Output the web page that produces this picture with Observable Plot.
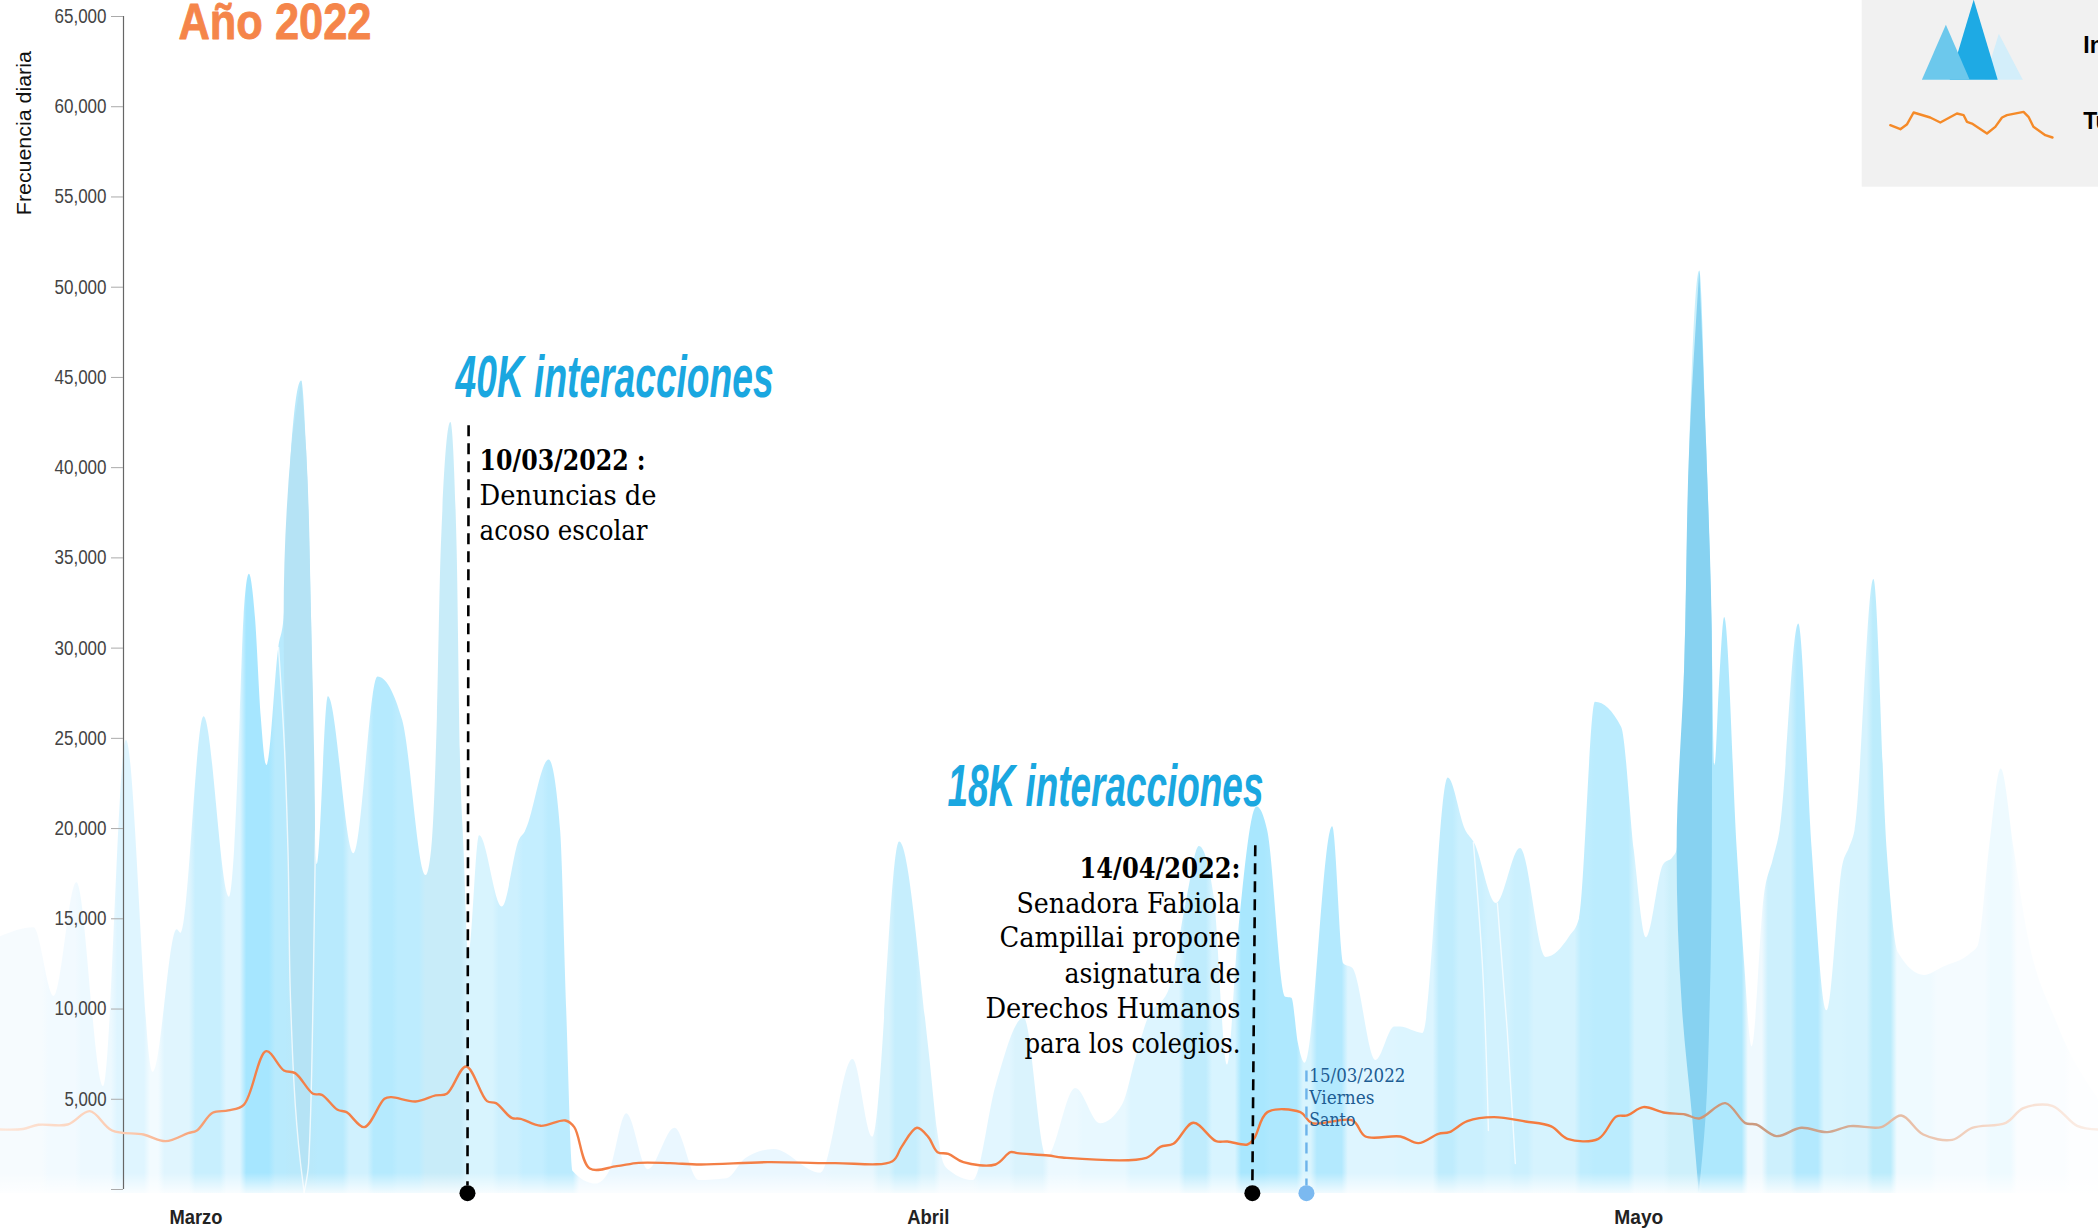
<!DOCTYPE html>
<html lang="es">
<head>
<meta charset="utf-8">
<script src="https://cdn.jsdelivr.net/npm/d3@7"></script>
<script src="https://cdn.jsdelivr.net/npm/@observablehq/plot@0.6"></script>
<style>
html,body{margin:0;padding:0;background:#fff;overflow:hidden}
svg{display:block;overflow:hidden}
</style>
</head>
<body>
<div id="chart"></div>
<script>
// x values are days since 1 March 2022; negative = February
const interDias = [-11.81,-10.32,-9.42,-8.41,-7.22,-6.20,-5.01,-3.94,-3.76,-2.74,-1.61,-1.38,-1.13,-0.96,-0.72,-0.45,-0.19,0.06,0.60,0.83,1.16,1.61,1.83,2.05,2.23,2.30,2.80,3.94,5.01,6.11,7.16,7.40,7.66,7.83,8.26,8.54,8.68,8.85,9.06,9.54,10.55,11.33,11.57,12.64,13.15,13.42,13.71,14.73,15.33,16.10,17.05,18.25,19.32,20.57,21.41,22.66,24.75,26.18,27.07,28.26,29.56,29.95,30.23,30.53,31.54,32.56,33.81,34.82,36.11,37.21,38.20,38.80,39.30,40.31,41.08,41.62,42.28,42.87,43.35,44.19,44.66,45.47,45.74,46.03,46.33,47.56,48.06,48.46,49.49,50.33,50.57,51.58,52.71,53.49,53.88,54.86,55.93,57.07,58.12,58.56,59.27,60.44,61.00,61.54,62.31,62.73,62.91,63.24,63.48,63.92,64.22,64.46,64.60,64.80,65.03,65.59,65.92,66.25,66.79,67.20,67.50,68.33,68.93,69.59,70.30,70.60,70.84,71.68,72.27,72.78,73.94,74.75,76.03,76.33,76.84,77.35,77.94,78.45,79.85,81.69];
const interValores = [14000,14500,10700,17000,5700,24900,6500,14400,14200,26200,16200,18791,26160,31700,34100,31700,26160,23500,30100,31700,40960,44800,40960,31700,19500,18000,27300,18600,28400,26000,17400,18791,26160,35420,42500,35420,24334,18791,13000,19600,15650,19400,19800,23800,19900,10000,1000,300,1000,4200,1100,3400,500,600,1720,2220,900,7200,2900,19250,7800,3270,1440,1000,500,5750,9500,1800,5600,3650,4700,7300,9370,11200,16200,19000,16200,6900,14000,21200,19900,10650,10600,8100,7000,20100,12500,12250,7150,9000,9000,8650,22800,19900,19200,15850,18900,12850,14000,15000,27000,25600,18800,13950,18000,18400,18800,28700,41400,50900,41400,31700,23500,28000,31700,18800,12500,7900,16200,18300,19900,31340,18800,9900,18000,18950,19900,33800,18800,13100,11860,12300,13100,13500,19000,23300,18800,14700,9200,5000];

const tuitDias = [-11.81,-10.81,-10.12,-8.82,-7.83,-6.84,-5.44,-4.45,-3.45,-3.06,-2.36,-1.66,-0.97,0.03,0.82,1.32,2.12,2.51,3.21,3.61,4.40,5.30,5.60,6.69,7.58,8.08,8.94,9.87,10.27,10.97,11.37,12.26,13.36,13.76,14.45,15.65,16.63,18.03,19.38,22.37,25.35,27.94,28.34,29.03,29.54,29.95,30.43,31.10,32.53,33.20,33.51,34.89,35.51,39.26,39.88,40.46,41.35,42.36,42.87,43.76,44.05,44.65,46.12,46.64,48.44,49.02,50.58,51.38,52.27,52.76,53.56,54.74,56.15,57.30,58.02,59.40,60.20,60.69,61.40,62.38,63.27,63.90,65.06,65.95,66.44,67.33,68.44,69.60,70.63,72.01,72.90,73.88,75.17,76.06,77.56,78.34,79.63,80.74,81.68];
const tuitValores = [3326,3350,3585,3602,4342,3270,3049,2679,3123,3270,4250,4380,4693,7667,6596,6448,5303,5248,4416,4287,3455,5025,5118,4878,5212,5303,6819,4897,4786,3971,3915,3529,3825,3455,1164,1293,1478,1460,1386,1515,1460,1570,2346,3418,2901,2069,1976,1515,1386,2069,2013,1885,1774,1756,2365,2531,3696,2679,2660,2494,2808,4287,4287,3677,3825,2938,2938,2568,3086,3179,3788,4010,3770,3494,2808,2808,4047,4103,4565,4250,4159,3936,4786,3677,3602,2957,3418,3179,3512,3456,4103,3049,2753,3418,3696,4510,4639,3530,3326];

// colour of the overlapped mountains, left to right: [end day, colour]
const bandas = [[-9.80,"#f6fbfe"],[-8.33,"#f2faff"],[-6.73,"#edf9ff"],[-5.26,"#dff5ff"],[-4.63,"#f2fbff"],[-3.25,"#e0f5fe"],[-1.87,"#c8effe"],[-0.98,"#def5ff"],[0.31,"#a6e6ff"],[1.02,"#b8eafd"],[2.23,"#b9e9fb"],[3.61,"#b8eafd"],[4.70,"#d0f1fe"],[5.79,"#b5eafe"],[7.00,"#bdecfe"],[8.87,"#c8ecf9"],[10.27,"#d8f4fe"],[11.36,"#cdf0fe"],[12.48,"#c4eeff"],[13.86,"#bbebfe"],[25.13,"#eaf7ff"],[27.20,"#e8f7fe"],[27.94,"#d8f3fd"],[29.14,"#c6eefd"],[29.95,"#d5f2fd"],[31.70,"#e8f7fe"],[33.30,"#e2f6ff"],[34.80,"#daf3fd"],[36.30,"#ecf9ff"],[38.45,"#e8f8ff"],[40.86,"#ddf5ff"],[42.07,"#bfecfd"],[43.36,"#d8f4ff"],[44.65,"#a9e7fe"],[46.12,"#aee8fe"],[46.74,"#d8f4fe"],[48.12,"#b3e9fe"],[50.40,"#def5ff"],[52.18,"#dcf5ff"],[53.07,"#bfecfd"],[54.36,"#cbf0fe"],[55.55,"#d2f2fe"],[56.41,"#cbf0fe"],[58.50,"#d6f3fe"],[59.10,"#bfedfe"],[60.90,"#bbecfe"],[62.47,"#d6f3fe"],[63.90,"#cdf0fb"],[65.95,"#aee8fd"],[66.84,"#eff9fe"],[68.13,"#cdf0fd"],[69.34,"#b3e9fe"],[70.40,"#d8f4fe"],[71.52,"#d6f3fe"],[72.59,"#bcecfc"],[74.37,"#effaff"],[76.77,"#f4fbff"],[77.94,"#eefaff"],[80.34,"#fafdff"],[81.69,"#fdfeff"]];

// two darker overlaps: value, left day, right day
const lenteMayo = [[50900,63.92,63.92],[41400,63.48,64.22],[28700,63.24,64.49],[18800,62.91,64.48],[10000,63.15,64.38],[4000,63.60,64.20],[-200,63.90,63.90]];
const lenteMarzo = [[44800,1.61,1.61],[40960,1.16,1.83],[31700,0.83,2.05],[18800,1.00,2.23],[10643,1.11,2.12],[1441,1.56,1.92],[-166,1.72,1.72]];

// thin white seams between mountains: [day, value]
const hilos = [
  [[0.58,30043],[0.85,24334],[1.00,18791],[1.11,10643],[1.56,1441],[1.72,-166]],
  [[2.23,19900],[2.12,10643],[1.92,1441],[1.72,-166]],
  [[53.83,19234],[54.23,12527],[54.50,3270]],
  [[54.90,15853],[55.34,8813],[55.70,1441]]
];

const ticksY = [0,5000,10000,15000,20000,25000,30000,35000,40000,45000,50000,55000,60000,65000];
const meses = [["Marzo",-4.28],["Abril",28.60],["Mayo",60.11]];

const hitos = [
  {dia1:9.05, valor1:42350, dia2:9.00, valor2:220, color:"#000", punto:"#000"},
  {dia1:44.11, valor1:19070, dia2:43.98, valor2:220, color:"#000", punto:"#000"},
  {dia1:46.39, valor1:6596, dia2:46.39, valor2:220, color:"#6cb3ea", punto:"#7bb9f0"}
];

const nota1Fecha = [["10/03/2022 :",39854]];
const nota1Texto = [["Denuncias de",37914],["acoso escolar",35974]];
const nota2Fecha = [["14/04/2022:",17239]];
const nota2Texto = [["Senadora Fabiola",15299],["Campillai propone",13414],["asignatura de",11419],["Derechos Humanos",9479],["para los colegios.",7538]];
const nota3 = [["15/03/2022",5931],["Viernes",4712],["Santo",3492]];

const leyendaTriClaro = [[76.64,61472],[77.27,64023],[78.34,61472]];
const leyendaTriFuerte = [[75.08,61472],[76.15,65906],[77.22,61472]];
const leyendaTriMedio = [[73.84,61472],[74.91,64520],[75.97,61472]];
const leyendaDias = [72.41,72.86,73.16,73.45,74.19,74.64,75.38,75.68,75.83,76.05,76.72,77.09,77.39,77.61,78.35,78.57,78.79,79.32,79.64];
const leyendaValores = [58978,58756,59033,59680,59403,59126,59625,59532,59163,59070,58517,58886,59403,59532,59717,59440,58886,58424,58295];

const anchos = {"Año 2022":193,"40K interacciones":318,"18K interacciones":316,"10/03/2022 :":166,"Denuncias de":177,"acoso escolar":168,"14/04/2022:":161,"Senadora Fabiola":224,"Campillai propone":241,"asignatura de":176,"Derechos Humanos":255,"para los colegios.":216,"15/03/2022":96,"Viernes":65,"Santo":46,"Marzo":53,"Abril":42,"Mayo":49,"Frecuencia diaria":164,
  "5,000":42,"10,000":52,"15,000":52,"20,000":52,"25,000":52,"30,000":52,"35,000":52,"40,000":52,"45,000":52,"50,000":52,"55,000":52,"60,000":52,"65,000":52};

const base = -220;
const inter = interDias.map((d,i)=>({d,v:interValores[i]}));
const tuit = tuitDias.map((d,i)=>({d,v:tuitValores[i]}));
const leyendaLinea = leyendaDias.map((d,i)=>({d,v:leyendaValores[i]}));
const narrow = "'Liberation Sans Narrow','Liberation Sans',sans-serif";
const slab = "'DejaVu Serif Condensed','DejaVu Serif',serif";

const plot = Plot.plot({
  width:2098, height:1230,
  marginLeft:123, marginRight:0, marginTop:16, marginBottom:41,
  x:{domain:[-6.33,81.69], axis:null},
  y:{domain:[0,65000]},
  marks:[
    Plot.areaY(inter,{x:"d",y1:()=>base,y2:"v",fill:"url(#bandasInter)",curve:"monotone-x"}),
    Plot.areaX(lenteMayo,{y:d=>d[0],x1:d=>d[1],x2:d=>d[2],fill:"#87d2f1",curve:"monotone-y"}),
    Plot.areaX(lenteMarzo,{y:d=>d[0],x1:d=>d[1],x2:d=>d[2],fill:"#b5e3f5",curve:"monotone-y"}),
    ...hilos.map(h=>Plot.line(h,{x:d=>d[0],y:d=>d[1],stroke:"#fff",strokeWidth:1.4,strokeOpacity:.75,curve:"monotone-y"})),
    Plot.rect([0],{x1:()=>-11.81,x2:()=>81.69,y1:()=>-2000,y2:()=>900,fill:"url(#fundido)"}),
    Plot.ruleX([-6.33],{y1:0,y2:65000,stroke:"#666",strokeWidth:1.2}),
    Plot.axisY({anchor:"left",ticks:ticksY,tickSize:12,tickPadding:5,label:null,fontSize:20,
      stroke:"#aaa",color:"#444",tickFormat:d=>d===0?"":d3.format(",")(d),
      fontFamily:narrow}),
    Plot.line(tuit,{x:"d",y:"v",stroke:"url(#bandaTuit)",strokeWidth:2.4,curve:"catmull-rom"}),
    ...hitos.map(h=>Plot.link([h],{x1:"dia1",y1:"valor1",x2:"dia2",y2:"valor2",stroke:"color",strokeWidth:h.color==="#000"?2.6:2.4,strokeDasharray:"11,7"})),
    Plot.dot(hitos.map(h=>({d:h.dia2,c:h.punto})),{x:"d",y:()=>-205,r:8,fill:"c",stroke:"none"}),

    Plot.text(["Año 2022"],{x:()=>-3.88,y:()=>63745,text:d=>d,textAnchor:"start",lineAnchor:"bottom",fontFamily:narrow,fontWeight:700,fontSize:50,fill:"#f5854a",stroke:"#f5854a",strokeWidth:.8}),
    Plot.text(["40K interacciones"],{x:()=>8.47,y:()=>43900,text:d=>d,textAnchor:"start",lineAnchor:"bottom",fontFamily:narrow,fontStyle:"italic",fontWeight:700,fontSize:60,fill:"#1aa7e0"}),
    Plot.text(["18K interacciones"],{x:()=>30.39,y:()=>21230,text:d=>d,textAnchor:"start",lineAnchor:"bottom",fontFamily:narrow,fontStyle:"italic",fontWeight:700,fontSize:60,fill:"#1aa7e0"}),
    Plot.text(["Frecuencia diaria"],{x:()=>-10.74,y:()=>58535,text:d=>d,rotate:-90,fontFamily:"'Liberation Sans',sans-serif",fontSize:21,fill:"#111"}),
    Plot.text(nota1Fecha,{x:()=>9.54,y:d=>d[1],text:d=>d[0],textAnchor:"start",lineAnchor:"bottom",fontFamily:slab,fontSize:27,fontWeight:700,fill:"#000"}),
    Plot.text(nota1Texto,{x:()=>9.54,y:d=>d[1],text:d=>d[0],textAnchor:"start",lineAnchor:"bottom",fontFamily:slab,fontSize:27,fill:"#000"}),
    Plot.text(nota2Fecha,{x:()=>43.45,y:d=>d[1],text:d=>d[0],textAnchor:"end",lineAnchor:"bottom",fontFamily:slab,fontSize:27,fontWeight:700,fill:"#000"}),
    Plot.text(nota2Texto,{x:()=>43.45,y:d=>d[1],text:d=>d[0],textAnchor:"end",lineAnchor:"bottom",fontFamily:slab,fontSize:27,fill:"#000"}),
    Plot.text(nota3,{x:()=>46.52,y:d=>d[1],text:d=>d[0],textAnchor:"start",lineAnchor:"bottom",fontFamily:slab,fontSize:18,fill:"#1d5c93"}),
    Plot.text(meses,{x:d=>d[1],y:()=>-1885,text:d=>d[0],textAnchor:"start",lineAnchor:"bottom",fontFamily:narrow,fontWeight:700,fontSize:21,fill:"#222"}),

    Plot.rect([0],{x1:()=>71.16,x2:()=>81.69,y1:()=>55540,y2:()=>65906,fill:"#f1f1f1"}),
    Plot.areaY(leyendaTriClaro,{x:d=>d[0],y1:()=>61472,y2:d=>d[1],fill:"#d3eefa"}),
    Plot.areaY(leyendaTriFuerte,{x:d=>d[0],y1:()=>61472,y2:d=>d[1],fill:"#1eaae4"}),
    Plot.areaY(leyendaTriMedio,{x:d=>d[0],y1:()=>61472,y2:d=>d[1],fill:"#6cc8ec"}),
    Plot.line(leyendaLinea,{x:"d",y:"v",stroke:"#f58a28",strokeWidth:2.4}),
    Plot.text([["Interacciones",62968],["Tuits",58756]],{x:()=>81.01,y:d=>d[1],text:d=>d[0],textAnchor:"start",lineAnchor:"bottom",fontFamily:"'Liberation Sans',sans-serif",fontWeight:700,fontSize:23,fill:"#000"})
  ]
});

// gradients live in the SVG itself, with their offsets taken from the x scale
const escala = plot.scale("x");
const W = 2098;
const frac = d => Math.max(0,Math.min(1,escala.apply(d)/W));
const svgNS = "http://www.w3.org/2000/svg";
const defs = document.createElementNS(svgNS,"defs");
function grad(id,attrs,stops){
  const g = document.createElementNS(svgNS,"linearGradient");
  g.setAttribute("id",id);
  for(const k in attrs) g.setAttribute(k,attrs[k]);
  for(const [o,c,op] of stops){
    const s = document.createElementNS(svgNS,"stop");
    s.setAttribute("offset",o); s.setAttribute("stop-color",c);
    if(op!==undefined) s.setAttribute("stop-opacity",op);
    g.appendChild(s);
  }
  defs.appendChild(g);
}
const horiz = {gradientUnits:"userSpaceOnUse",x1:0,x2:W,y1:0,y2:0};
const stopsBandas = [];
let ini = -11.81;
const blando = 0.14;
for(const [fin,c] of bandas){
  stopsBandas.push([frac(ini+blando),c],[frac(fin-blando),c]);
  ini = fin;
}
grad("bandasInter",horiz,stopsBandas);
grad("bandaTuit",horiz,[[0,"#fde6d9"],[.062,"#fbc9ae"],[.12,"#f3814a"],[.79,"#f47b3e"],[.805,"#cf9676"],[.86,"#c99f88"],[.91,"#e8bfa8"],[.955,"#f7dccd"],[1,"#fbefe8"]]);
grad("fundido",{x1:0,x2:0,y1:0,y2:1},[[0,"#fff",0],[.38,"#fff",.8],[.6,"#fff",1],[1,"#fff",1]]);
plot.insertBefore(defs,plot.firstChild);

// match the widths of the condensed display faces
plot.querySelectorAll("text").forEach(t=>{
  const a = anchos[t.textContent.trim()];
  if(a){ t.setAttribute("textLength",a); t.setAttribute("lengthAdjust","spacingAndGlyphs"); }
});
document.getElementById("chart").appendChild(plot);
</script>
</body>
</html>
